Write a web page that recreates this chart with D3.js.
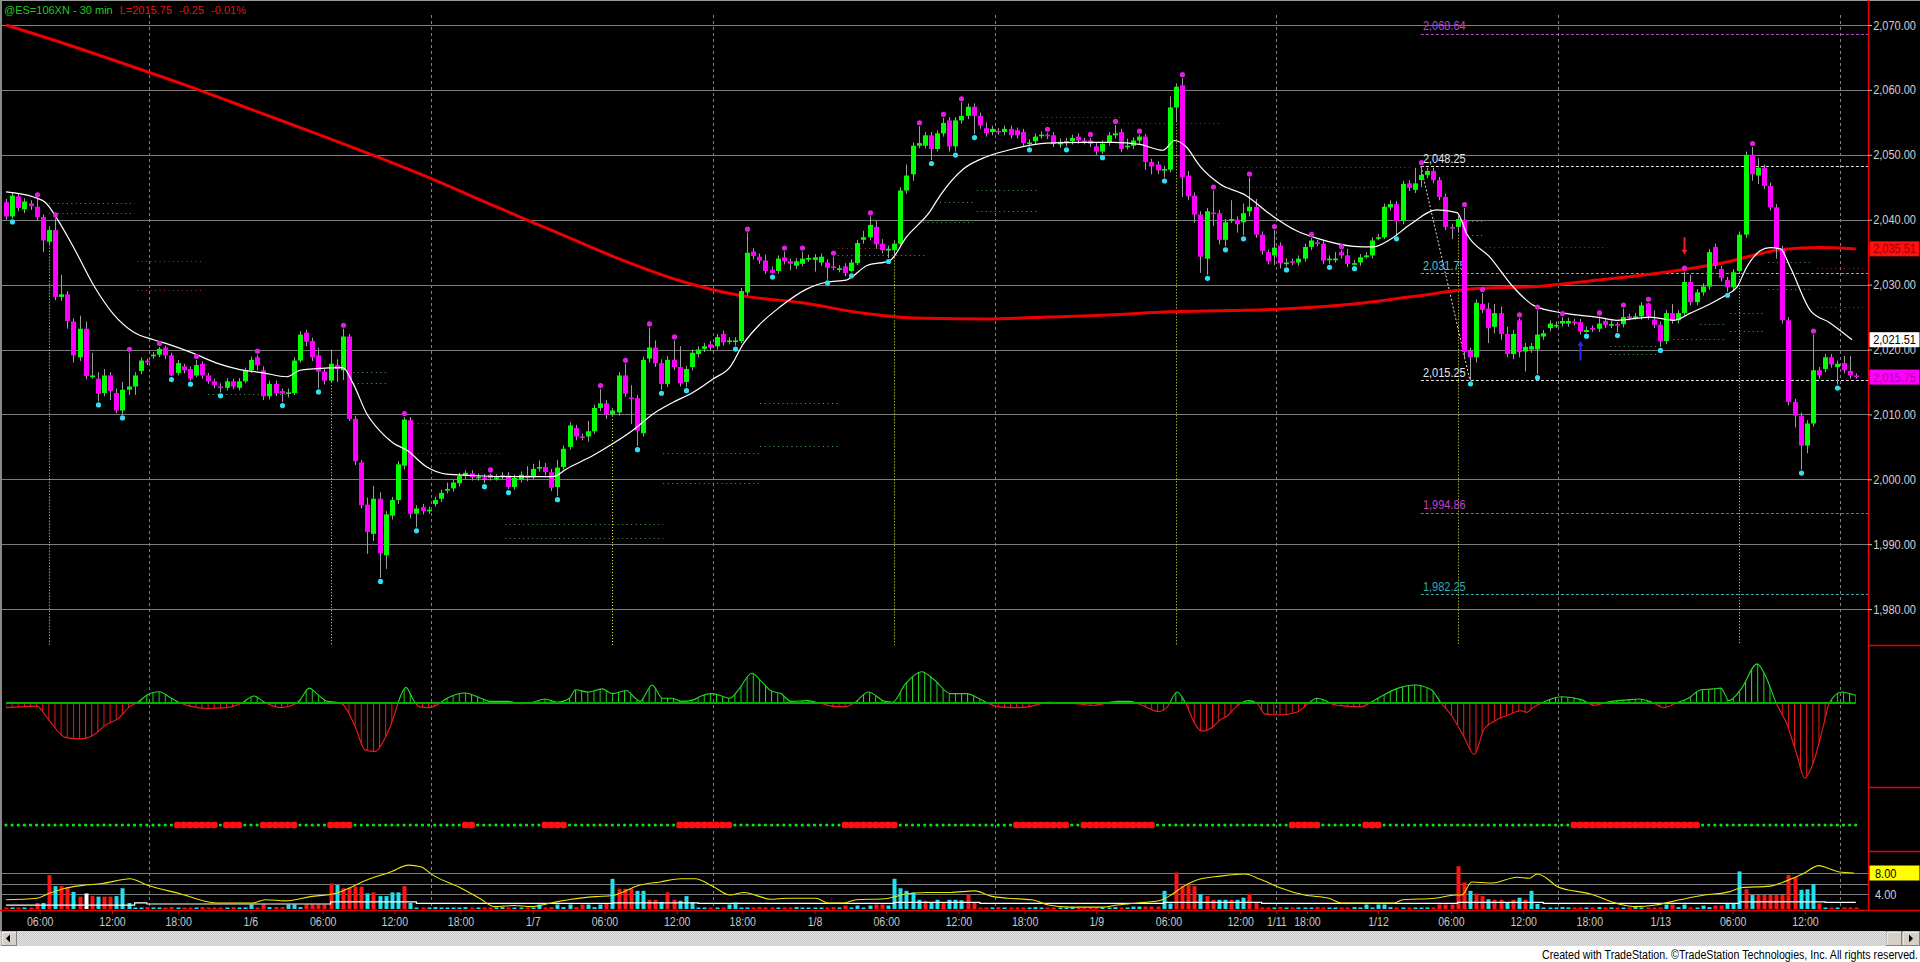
<!DOCTYPE html>
<html><head><meta charset="utf-8">
<title>@ES=106XN - 30 min</title>
<script src="https://d3js.org/d3.v7.min.js"></script>
<style>
  html, body { margin: 0; padding: 0; background: #000; overflow: hidden; }
  svg { display: block; }
  .narrow { font-family: "Liberation Sans", Arial, sans-serif; }
  .title { font-family: "Liberation Sans", Arial, sans-serif; font-size: 11px; }
</style>
</head><body>
<svg id="chart" width="1920" height="962"></svg>
<script>
// ---- 30 min bars, 1/5 03:00 .. 1/13 (bar index 0..302) ----
const opens = [
  2042.7,2040.5,2043.6,2041.6,2042.5,2042.0,2040.4,2036.6,2038.4,2028.1,
  2028.5,2024.3,2018.8,2023.2,2015.9,2015.5,2013.3,2016.0,2013.3,2010.6,
  2013.8,2014.3,2016.7,2018.3,2019.0,2019.2,2020.3,2019.1,2016.4,2017.4,
  2017.0,2016.0,2017.8,2016.0,2015.1,2014.3,2014.1,2015.1,2014.1,2015.1,
  2016.8,2018.8,2016.8,2012.8,2014.7,2013.6,2013.3,2013.3,2018.3,2022.6,
  2021.3,2019.1,2016.6,2015.2,2017.6,2016.8,2022.0,2009.3,2002.6,1996.1,
  1991.6,1997.0,1988.3,1994.4,1996.8,2002.1,2009.1,1994.7,1995.7,1995.2,
  1996.2,1997.0,1998.3,1998.6,1999.4,2000.5,2000.9,2000.3,2000.3,2000.7,
  2000.2,2000.5,2000.6,1998.8,1999.9,2000.6,2000.3,2001.8,2001.9,2001.1,
  1998.8,2001.9,2005.0,2007.9,2006.6,2006.6,2007.4,2011.0,2011.7,2010.0,
  2010.3,2016.0,2012.6,2012.5,2007.1,2018.6,2020.3,2017.9,2014.7,2018.4,
  2017.3,2015.0,2017.3,2019.3,2020.1,2020.8,2020.5,2022.4,2021.3,2021.3,
  2021.3,2028.8,2035.1,2034.3,2033.7,2032.3,2032.1,2034.2,2033.6,2032.9,
  2033.2,2034.0,2033.8,2033.4,2033.4,2032.8,2032.4,2032.8,2032.1,2033.3,
  2036.9,2037.3,2038.9,2036.3,2035.4,2035.3,2036.3,2044.5,2047.0,2051.4,
  2051.4,2053.0,2050.9,2053.3,2055.3,2051.3,2055.3,2056.0,2057.4,2056.0,
  2054.1,2053.5,2053.7,2053.5,2054.0,2053.8,2053.5,2051.8,2052.1,2053.0,
  2053.1,2053.0,2051.6,2052.0,2052.1,2052.8,2052.2,2052.2,2051.3,2050.5,
  2051.9,2053.0,2053.5,2051.3,2051.4,2052.2,2052.8,2048.9,2048.5,2047.7,
  2047.7,2057.3,2060.7,2046.8,2043.7,2040.8,2034.0,2041.1,2041.0,2036.9,
  2040.0,2040.0,2039.6,2041.3,2042.0,2037.7,2035.0,2034.5,2036.0,2033.3,
  2033.6,2033.4,2034.0,2035.8,2036.5,2036.3,2033.9,2033.9,2035.0,2034.5,
  2033.2,2033.4,2034.4,2034.5,2037.2,2037.3,2041.9,2042.4,2039.8,2045.6,
  2044.6,2046.1,2046.9,2047.5,2046.1,2043.5,2038.9,2038.9,2040.0,2019.8,
  2018.8,2027.0,2026.3,2023.5,2025.6,2022.4,2019.3,2024.5,2019.7,2020.0,
  2020.0,2022.0,2023.3,2023.7,2024.0,2024.0,2024.3,2024.2,2022.7,2023.3,
  2023.2,2024.4,2023.8,2023.9,2023.9,2025.1,2025.0,2025.1,2027.1,2024.6,
  2023.8,2021.3,2025.6,2024.5,2025.6,2030.4,2027.3,2028.8,2029.7,2035.8,
  2032.4,2030.7,2029.6,2032.1,2037.7,2050.0,2046.8,2048.0,2045.2,2041.9,
  2035.5,2024.5,2011.9,2009.8,2005.2,2008.6,2016.8,2017.0,2018.8,2017.3,
  2017.9,2016.7,2016.0
];
const highs = [
  2043.2,2044.2,2044.0,2043.3,2043.0,2043.3,2040.8,2039.0,2040.2,2031.5,
  2029.0,2024.8,2025.2,2024.3,2019.5,2016.5,2017.0,2016.5,2014.0,2015.0,
  2019.5,2016.5,2018.8,2018.6,2019.6,2020.4,2020.6,2019.5,2018.4,2017.8,
  2017.4,2018.4,2018.2,2016.4,2015.5,2014.8,2015.6,2015.5,2015.6,2017.2,
  2018.9,2019.2,2017.4,2015.2,2015.2,2014.0,2014.0,2018.8,2022.8,2023.0,
  2021.8,2020.3,2017.0,2020.0,2018.5,2023.2,2022.4,2009.8,2003.0,1997.2,
  1999.0,1998.0,1995.1,1997.3,2002.8,2009.6,2009.6,1996.0,1996.2,1995.8,
  1997.3,1998.4,1999.5,2000.0,2001.0,2001.4,2001.4,2000.9,2000.8,2000.9,
  2000.8,2001.1,2001.1,2000.7,2001.2,2002.0,2002.4,2002.9,2002.5,2001.6,
  2003.0,2005.2,2008.8,2008.4,2007.0,2009.0,2011.5,2013.9,2012.2,2011.0,
  2016.5,2017.8,2014.5,2013.0,2018.9,2023.4,2021.4,2018.5,2019.0,2021.4,
  2020.5,2017.5,2020.0,2020.5,2021.0,2021.3,2022.4,2022.9,2021.9,2021.9,
  2029.5,2038.0,2035.6,2034.8,2034.6,2032.8,2034.5,2035.1,2034.0,2034.1,
  2035.1,2034.6,2034.7,2034.8,2033.9,2034.3,2033.0,2033.3,2033.9,2036.9,
  2038.3,2040.5,2039.8,2037.0,2036.0,2036.8,2045.0,2048.5,2051.9,2054.4,
  2053.5,2053.5,2053.8,2055.7,2055.8,2055.8,2058.1,2057.9,2057.9,2056.5,
  2055.0,2054.5,2054.1,2054.5,2054.5,2054.2,2054.0,2052.4,2053.3,2053.6,
  2053.4,2053.5,2052.5,2052.6,2053.1,2053.3,2052.6,2052.6,2051.8,2052.2,
  2053.5,2054.6,2054.0,2052.5,2052.7,2053.1,2053.2,2049.4,2049.0,2048.3,
  2059.0,2061.0,2061.8,2047.5,2044.2,2041.3,2041.8,2044.5,2041.5,2040.1,
  2043.0,2040.5,2042.5,2046.5,2043.2,2038.2,2035.4,2038.4,2036.5,2034.0,
  2034.0,2034.5,2036.3,2037.2,2036.9,2036.8,2034.5,2035.0,2035.3,2035.5,
  2033.8,2034.7,2035.0,2037.3,2037.8,2042.5,2043.0,2042.9,2046.0,2046.1,
  2048.0,2048.25,2048.0,2048.0,2046.6,2044.0,2039.4,2040.6,2041.8,2020.3,
  2027.7,2028.7,2027.2,2027.0,2026.6,2023.5,2023.0,2024.8,2021.0,2021.0,
  2026.0,2023.0,2024.5,2024.3,2025.0,2024.9,2024.7,2024.7,2023.5,2023.7,
  2025.1,2024.9,2024.4,2024.2,2026.3,2025.5,2025.6,2027.3,2027.2,2026.0,
  2024.3,2026.1,2027.0,2026.1,2032.0,2031.5,2029.3,2030.2,2035.5,2036.3,
  2032.9,2031.2,2032.4,2038.2,2050.5,2051.2,2049.5,2048.5,2045.7,2042.4,
  2036.0,2025.0,2012.4,2010.3,2009.1,2022.3,2017.3,2019.3,2019.3,2018.3,
  2019.0,2019.0,2016.3
];
const lows = [
  2040.0,2040.2,2041.3,2041.0,2041.5,2039.9,2035.0,2036.0,2027.6,2027.5,
  2023.2,2018.0,2018.2,2015.4,2015.5,2012.0,2012.8,2012.2,2010.2,2010.0,
  2013.0,2013.0,2016.2,2017.6,2018.6,2018.8,2018.5,2015.9,2016.0,2016.3,
  2015.2,2015.7,2015.5,2014.7,2014.0,2013.4,2013.7,2013.9,2013.7,2014.8,
  2016.4,2016.8,2012.2,2012.3,2012.8,2011.9,2012.6,2013.0,2018.0,2020.5,
  2018.2,2014.0,2014.6,2014.8,2015.0,2015.3,2009.0,2002.2,1995.5,1988.5,
  1990.5,1984.8,1986.2,1993.8,1996.2,2001.5,1994.0,1992.6,1994.6,1994.7,
  1995.8,1996.5,1997.8,1998.1,1998.9,2000.0,1999.8,1999.8,1999.4,1999.8,
  1999.8,2000.0,1998.5,1998.4,1999.5,1999.7,2000.0,2001.2,2000.6,1998.2,
  1997.4,2001.5,2004.6,2006.0,2006.0,2005.8,2007.0,2010.5,2009.3,2009.6,
  2009.8,2012.7,2008.5,2005.1,2006.6,2018.0,2017.3,2013.8,2014.2,2016.8,
  2014.3,2014.2,2016.8,2018.8,2019.6,2019.8,2020.0,2020.6,2020.8,2020.6,
  2021.0,2028.3,2033.9,2033.2,2031.6,2031.7,2031.7,2033.1,2032.2,2032.4,
  2032.8,2033.5,2032.0,2032.9,2030.8,2032.2,2031.9,2031.3,2031.9,2033.0,
  2036.3,2036.8,2035.5,2034.8,2034.1,2034.5,2036.0,2044.0,2046.0,2051.0,
  2051.0,2049.2,2050.5,2052.8,2050.5,2050.5,2054.8,2055.5,2053.2,2054.0,
  2052.8,2053.0,2053.1,2053.0,2052.5,2052.5,2051.3,2051.3,2051.6,2052.5,
  2052.4,2051.2,2051.1,2051.3,2051.6,2051.7,2051.6,2051.2,2050.0,2050.1,
  2051.4,2052.5,2050.4,2050.8,2050.9,2051.7,2047.7,2047.0,2047.0,2046.5,
  2047.3,2055.0,2043.5,2043.0,2039.5,2031.8,2031.5,2039.0,2036.2,2035.9,
  2039.5,2038.0,2037.6,2040.5,2037.2,2034.6,2033.1,2033.0,2032.5,2032.8,
  2033.0,2032.9,2033.5,2035.3,2035.9,2033.2,2033.2,2033.4,2034.0,2032.7,
  2033.0,2032.9,2034.0,2034.0,2036.8,2037.0,2041.4,2037.6,2039.3,2044.4,
  2044.1,2045.0,2046.4,2045.6,2043.0,2038.4,2037.0,2038.0,2018.5,2015.25,
  2018.0,2025.6,2021.0,2022.5,2021.5,2018.8,2018.5,2018.8,2016.6,2019.5,
  2016.2,2021.5,2022.8,2023.3,2023.5,2023.5,2023.7,2022.3,2022.6,2022.7,
  2022.7,2023.3,2023.3,2022.7,2023.4,2024.5,2024.6,2024.6,2024.6,2023.3,
  2020.4,2020.8,2024.0,2024.0,2025.2,2026.8,2026.8,2028.3,2029.2,2032.4,
  2030.5,2028.9,2029.1,2031.6,2037.2,2046.0,2045.5,2044.7,2041.4,2034.0,
  2024.0,2011.4,2008.0,2001.5,2004.0,2008.1,2015.5,2016.5,2017.2,2014.6,
  2016.3,2015.5,2015.5
];
const closes = [
  2040.5,2043.7,2041.8,2042.8,2042.1,2040.4,2036.8,2038.4,2028.1,2028.5,
  2024.4,2019.1,2023.2,2015.9,2016.0,2013.2,2016.0,2013.6,2010.6,2013.8,
  2014.3,2016.0,2018.3,2018.0,2019.2,2020.1,2019.1,2016.0,2017.9,2016.8,
  2015.5,2017.6,2016.0,2015.1,2014.5,2014.2,2015.1,2014.3,2015.1,2016.8,
  2018.4,2017.6,2012.8,2014.7,2013.3,2013.2,2013.4,2018.3,2022.3,2021.2,
  2018.8,2016.6,2015.2,2017.8,2017.0,2022.0,2009.3,2002.8,1996.0,1991.9,
  1997.0,1988.6,1994.6,1996.8,2002.3,2009.2,1994.7,1995.5,1995.1,1995.3,
  1996.8,1997.9,1998.5,1999.5,2000.5,2001.0,2000.3,2000.4,2000.2,2000.2,
  2000.3,2000.6,1998.8,2000.2,2000.7,2000.2,2001.6,2001.9,2001.1,1998.7,
  2001.8,2004.7,2008.3,2006.6,2006.5,2007.4,2011.0,2011.7,2010.0,2010.6,
  2016.0,2013.2,2012.5,2007.5,2018.4,2020.3,2017.9,2014.7,2018.4,2017.3,
  2014.8,2017.0,2019.5,2020.0,2020.5,2020.3,2021.9,2021.1,2021.4,2021.4,
  2029.0,2034.9,2034.4,2033.7,2032.1,2031.8,2034.0,2033.6,2033.2,2033.6,
  2034.0,2034.1,2034.2,2034.3,2032.6,2032.7,2032.5,2031.8,2033.4,2036.4,
  2037.3,2039.2,2036.2,2035.3,2035.5,2036.3,2044.5,2046.8,2051.4,2051.8,
  2053.0,2050.9,2053.3,2054.9,2051.3,2055.3,2056.0,2057.4,2056.0,2054.5,
  2053.3,2054.0,2053.6,2054.0,2053.0,2053.0,2051.8,2051.9,2052.8,2053.1,
  2053.0,2051.7,2052.0,2052.1,2052.6,2052.2,2052.1,2051.7,2050.5,2051.7,
  2053.0,2053.3,2050.9,2051.4,2052.2,2052.8,2048.9,2048.2,2047.6,2047.8,
  2057.3,2060.5,2046.5,2043.6,2040.8,2034.3,2041.3,2041.0,2036.9,2039.6,
  2040.1,2039.3,2041.0,2042.0,2037.7,2035.2,2033.6,2035.7,2033.3,2033.4,
  2033.5,2034.0,2035.8,2036.8,2036.4,2033.7,2034.0,2034.0,2034.5,2033.2,
  2033.3,2034.2,2034.5,2036.8,2037.3,2042.0,2042.4,2039.8,2045.5,2044.9,
  2045.6,2046.9,2047.5,2046.1,2043.5,2038.9,2038.8,2040.1,2019.6,2018.8,
  2027.2,2026.1,2023.3,2025.6,2022.4,2019.3,2022.4,2019.6,2020.4,2020.5,
  2022.3,2022.5,2024.0,2023.8,2024.4,2024.4,2024.2,2022.8,2023.0,2023.2,
  2024.0,2023.8,2023.9,2023.7,2025.0,2025.0,2025.1,2026.8,2025.1,2023.8,
  2021.3,2025.6,2024.5,2025.6,2030.4,2027.3,2028.8,2029.7,2035.0,2032.9,
  2031.0,2029.6,2031.9,2037.7,2050.0,2047.0,2048.0,2045.2,2041.9,2035.6,
  2024.5,2011.9,2009.8,2005.2,2008.6,2016.8,2016.0,2018.8,2017.7,2017.8,
  2016.8,2016.0,2015.75
];

// swing markers (bar index)
const swingHighBars = [5,8,20,25,31,41,55,65,79,97,101,105,109,121,127,130,135,141,149,153,156,170,177,181,185,
  192,197,203,207,213,218,231,238,241,247,250,254,260,264,268,274,285,295];
const swingLowBars = [1,15,19,27,30,35,45,51,61,67,78,82,90,103,107,111,119,125,134,138,144,151,155,158,167,173,179,
  189,196,199,202,209,216,220,227,239,250,258,263,270,281,293,299];

// moving averages: [bar, price]
const fastMa = [[0,2044.3],[4.5,2043.5],[6.6,2042.5],[8.5,2039.9],[11,2035.8],[14.3,2029.9],[17.5,2025.5],[20.8,2022.7],
  [24.1,2021.5],[26.2,2020.9],[30.6,2019.4],[34.4,2017.9],[38.2,2016.9],[42,2016.4],[45.8,2015.8],[48,2016.8],[50.2,2017],
  [55,2017.2],[56.7,2014.7],[58.9,2010.1],[61,2007.5],[63.2,2005.6],[65.4,2004.5],[68.7,2001.9],[71.9,2000.8],[75.7,2000.6],
  [82.3,2000.4],[89.3,2000.4],[91.5,2001.6],[95.9,2003.7],[99.1,2005.5],[102.4,2007.6],[105.7,2010.1],[109,2011.9],
  [112.2,2013.4],[115.5,2015.5],[118.2,2017.3],[120.4,2020.9],[123.1,2023.9],[126.3,2026.5],[130.7,2029.3],[134,2030.4],
  [137.2,2030.7],[140.5,2032.9],[144.3,2033.7],[147,2037.3],[150.8,2041.2],[152.5,2043.7],[156.3,2047.8],[160.1,2049.7],
  [164.4,2050.9],[169.9,2051.8],[175.3,2051.9],[180.8,2051.9],[185.1,2051.6],[188.9,2050.7],[190.8,2052.2],[192.7,2051.2],
  [194.9,2048.3],[198.2,2045.5],[202.5,2043.7],[206.3,2040.9],[210.7,2038.3],[214.5,2037],[220,2035.9],[223.2,2035.8],
  [225.9,2036.9],[229.3,2039.3],[233.6,2041.5],[236.9,2041.1],[238.5,2037.8],[242.3,2034.2],[246.1,2029.6],[249.4,2026.8],
  [254.3,2025.6],[259.7,2025],[263,2024.5],[268.4,2025],[272.3,2024.5],[275,2025.6],[278.2,2027],[281,2028.5],[282.6,2029.6],
  [284.2,2032.7],[286.4,2035.2],[288,2035.7],[289.7,2035.5],[291.3,2032.7],[294.6,2026],[297.8,2024.1],[301.4,2021.5]];
const slowMa = [[0,2070],[10,2067],[20,2063.8],[30,2060.5],[40,2057],[50,2053.5],[60,2049.9],[70,2046.1],[80,2042],
  [90,2038],[100,2034],[110,2030.6],[120,2028.3],[130,2027.2],[140,2025.6],[150,2024.8],[160,2024.7],[170,2025],
  [180,2025.3],[190,2025.8],[200,2026],[210,2026.3],[220,2027],[230,2028.2],[240,2029.4],[250,2029.7],[260,2030.7],
  [270,2031.8],[280,2033.3],[290,2035.4],[296,2035.7],[302,2035.5]];

// daily dotted levels
const levelStart = [7,7,21.4,21.4,33,56.7,56.7,66.5,66.5,81.5,81.5,107.3,107.3,123.1,123.1,135.8,135.8,149,152.5,
  158.5,158.5,169.2,169.2,198.2,198.2,237.9,237.9,241.5,261.9,261.9,272.2,276.6,281.5,281.5,287.7,287.7,295.7,295.7];
const levelEnd = [21,21,32,32,46,62.4,62.4,81.1,81.1,107.3,107.3,123.1,123.1,135.8,135.8,144.8,150,157.9,157.9,
  168.3,168.3,181.9,198.2,229.2,226,241.1,241.1,261.4,269.5,269.5,281,281,286.9,286.9,295,295,303.8,303.8];
const levelPrice = [2042.5,2041.0,2033.7,2029.1,2013.1,2016.6,2014.8,2008.7,2004.1,1993.1,1991.0,2004.1,1999.4,
  2011.7,2005.2,2035.6,2034.6,2039.7,2042.8,2044.6,2041.3,2055.8,2054.9,2048.1,2045.0,2039.8,2037.7,2035.8,
  2020.5,2019.3,2021.6,2024.0,2025.6,2022.9,2033.5,2029.3,2032.5,2026.6];
const levelKind = "ggrrgggrrggggggrgggggrrrrggrggggggggrr";

// projection levels from the 1/12 swing
const projStartBar = 231;
const projPrices = [2068.64, 2048.25, 2031.75, 2015.25, 1994.86, 1982.25];
const projColors = ["#b848c8", "#e6e6e6", "#48c8d8", "#e6e6e6", "#c040c8", "#3aa8b0"];

// session markers
const sessionOpenBars = [7, 53, 99, 145, 191, 237, 283];
const sessionBreakBars = [23.4, 69.4, 115.4, 161.4, 207.4, 253.4, 299.4];

// oscillator: [bar, value]
const osc = [[0,-0.3],[5,-0.2],[7,-1.1],[9.7,-2.2],[12.3,-2.3],[14.3,-2.05],[16.3,-1.4],[18.3,-1.0],[20.3,-0.2],
  [21.3,0],[23.5,0.6],[25,0.72],[27,0.3],[28.5,0],[30,-0.2],[33,-0.35],[36,-0.3],[38.5,0],[40.5,0.45],[42,0.1],
  [43,-0.1],[45,-0.3],[47,-0.1],[48,0.2],[49.5,0.95],[51,0.5],[52.5,0.1],[54,0.05],[55,-0.1],[57,-1.5],[58.6,-3.0],
  [60.3,-3.1],[62,-2.15],[63.3,-0.9],[64,0],[65.3,1.0],[66.5,0.2],[67.5,-0.25],[69,-0.3],[70.5,-0.1],[72,0.3],
  [75,0.64],[77.5,0.3],[79,0.1],[82,0.1],[84,-0.05],[86,0.05],[88,0.25],[90,0.05],[92,0.3],[93,0.85],[95,0.7],
  [97.3,0.9],[99,0.6],[101.3,0.8],[102.5,0.4],[103.5,0.1],[105.5,1.15],[107.2,0.3],[108.8,0.3],[110.2,0.1],
  [112.2,0.2],[113.5,0.45],[115.2,0.6],[116.8,0.45],[118.2,0.3],[119.5,0.8],[121.8,1.9],[123.5,1.3],[124.8,0.8],
  [126.5,0.6],[128.2,0.1],[130.8,0.15],[132.8,0],[134.8,-0.2],[136.8,-0.25],[138.5,0],[140.8,0.7],[143.5,0.1],
  [144.8,0.05],[146.8,1.2],[149.5,2.0],[151.5,1.5],[154.2,0.6],[156.8,0.6],[158.8,0.3],[160.2,0],[162.2,-0.25],
  [164.8,-0.3],[167.5,-0.2],[170.2,0.05],[173.5,0],[177.5,-0.15],[181.5,0.1],[183.5,0.1],[185.5,-0.15],[188.2,-0.55],
  [189.5,-0.3],[191.2,0.7],[192.5,0.05],[194.2,-1.4],[195.2,-1.8],[196.8,-1.6],[198.2,-1.1],[199.5,-0.8],
  [200.8,-0.25],[202.8,0.15],[204.2,0],[205.5,-0.7],[208,-0.77],[210.7,-0.6],[212.7,0],[214,0.3],[215.7,0.1],
  [216.7,-0.1],[218.7,-0.2],[221.3,-0.25],[222.7,0],[224,0.3],[227.3,0.95],[230,1.15],[232.7,0.85],[234.3,0],
  [236,-0.8],[238,-2.15],[239.7,-3.3],[241.3,-1.7],[243.3,-1.1],[245.3,-0.77],[247.3,-0.5],[248.3,-0.6],
  [249.3,-0.3],[250.7,0],[254,0.4],[257.3,0.2],[259.3,-0.15],[261.3,0.05],[264.7,0.2],[266.7,0.25],[268.7,0.05],
  [270.7,-0.3],[272.7,0],[274.7,0.3],[276.7,0.85],[278.7,0.9],[280,0.95],[281.3,0.15],[283.3,0.9],[285.9,2.5],
  [287.3,1.7],[289,0],[290.7,-1.3],[292.3,-3.2],[293.7,-4.8],[295,-3.9],[296.7,-1.5],[297.7,0],[299.7,0.7],
  [301,0.6],[302,0.5]];

// trend state row: red runs (inclusive bar ranges), green otherwise
const redRunStart = [28,36,42,53,75,88,110,137,165,176,210,222,256];
const redRunEnd   = [34,38,47,56,76,91,118,145,173,187,214,224,276];

// volume panel
const volume = [
  1.3,1.3,1.3,1.3,1.3, 2.3,2.3,
  7.6,5.5,5.5,5.3,4.4,3.5,4.1,3.6,3.5,3.5,3.5,3.6,5.1,2.3,
  1.3,1.3,1.5,1.3,1.3,1.3,1.5,1.3,1.3,1.3,1.3,1.5,1.3,1.3,1.3,1.3,1.5,1.3,1.3,
  2.0,1.3,2.0,1.5,1.5,1.5,2.0,2.0,1.5,2.0,2.0,2.0,2.0,
  6.0,5.7,5.1,5.2,5.4,5.4,4.1,4.3,3.6,3.6,4.3,4.3,5.5,2.3,
  1.3,1.3,1.3,1.5,1.3,1.3,1.3,1.3,1.5,1.3,1.3,1.3,1.3,1.3,1.5,1.3,1.3,1.3,1.3,1.3,
  2.0,1.3,1.5,2.0,1.5,2.0,1.5,2.0,2.0,1.5,2.0,2.3,
  6.9,5.0,5.0,5.0,4.6,4.6,2.9,2.9,2.5,4.3,2.9,2.7,3.6,2.4,
  1.3,1.3,1.3,1.3,1.3,2.0,2.4,
  1.3,1.3,1.3,1.5,1.3,1.3,1.3,1.3,1.3,1.5,1.3,1.3,1.3,1.3,1.3,1.5,1.3,
  1.8,1.3,1.8,1.3,1.8,2.0,2.0,1.8,
  6.9,5.1,4.6,4.3,2.9,2.7,2.4,2.9,2.4,2.9,2.9,2.8,3.9,2.4,
  1.3,1.3,1.3,1.5,1.3,1.3,1.3,1.3,1.3,1.5,1.3,1.3,1.3,1.3,1.3,1.5,1.3,1.3,1.3,1.3,1.3,1.3,1.5,1.3,1.3,
  1.6,1.6,1.6,1.6,1.6,
  4.6,2.2,8.1,5.5,5.8,5.5,4.0,3.6,2.9,2.9,2.9,2.9,2.9,3.3,4.0,2.4,
  1.3,1.3,1.3,1.5,1.3,1.3,1.3,1.3,1.3,1.5,1.3,1.3,1.3,1.3,1.3,1.5,1.3,
  2.0,1.3,2.0,2.0,1.5,
  1.3,1.3,1.3,1.3,1.3,1.3,1.3,
  2.0,2.0,2.0,
  9.3,6.2,4.6,4.1,3.6,3.0,2.9,2.9,2.3,2.9,3.3,2.9,4.6,2.1,
  1.3,1.3,1.3,1.5,1.3,1.3,1.3,1.3,1.3,1.5,1.3,1.3,1.3,1.3,1.3,1.5,1.3,1.3,1.3,1.3,
  2.0,2.0,1.5,2.0, 1.3,1.3, 1.8,1.5,1.8,1.8,
  2.3,2.3,8.3,4.9,3.8,3.8,3.8,3.8,3.8,3.8,7.6,7.2,4.8,4.9,5.9,2.2,
  1.3,1.3,1.3,1.3,1.3,1.3
];
// r = red, c = cyan, w = white, . = follows the price bar
const volumeColorCodes = "....." + "rc" + "rcrrcrwrcrrccc" + ".".repeat(32) + "rcrrrrcrccccrc" + ".".repeat(32) +
  "crrrccrrcrrccc" + ".".repeat(32) + "cccccrccrcccrr" + ".".repeat(30) + "ccrrrrcrrccrccrr" + ".".repeat(32) +
  "rrcrrcrrcrcrcc" + ".".repeat(30) + "cccrcrrrrrrrcccr" + ".".repeat(6);
const volumeAvg = [[0,2.9],[5,3.2],[7,4.1],[9.7,5.1],[12.3,5.6],[15.7,6.0],[20.3,6.9],[23,5.7],[28.3,4.1],[34.3,2.3],
  [40.3,2.3],[42.3,2.9],[45.7,2.7],[49.7,3.5],[53.7,4.1],[59,6.7],[63,8.3],[65.7,9.5],[67.7,9.2],[69.7,7.6],
  [74.3,5.1],[77.3,3.2],[79.7,1.6],[83,1.8],[85.7,1.6],[89,2.3],[92.3,3.0],[96.3,3.5],[99,3.7],[103.5,5.7],
  [106.8,6.3],[110.2,6.9],[112.5,6.9],[115.5,5.4],[118.2,3.8],[120.5,4.3],[122.8,3.6],[124.8,3.0],[127.5,3.2],
  [132.2,3.2],[134.2,2.3],[136.8,2.3],[138.8,2.9],[143.5,3.1],[145.2,3.5],[146.8,4.0],[150.2,4.3],[154.2,4.3],
  [158.2,4.6],[160.8,3.6],[163.5,3.2],[167.5,2.9],[170.2,1.9],[173.5,1.5],[178.8,1.5],[181.5,1.9],[184.8,2.3],
  [188.2,2.7],[190.2,3.8],[192.2,5.4],[194.8,6.8],[198.2,7.4],[202.2,7.8],[204.8,6.8],[208,5.2],[212,3.8],
  [216,3.2],[218,2.3],[226.7,2.3],[228,2.9],[233.3,3.2],[236.7,3.8],[237.7,3.8],[239.3,6.3],[242.7,6.1],
  [246.7,7.2],[248.7,7.0],[250,7.8],[251.3,7.2],[253.3,5.4],[258.7,4.0],[263.3,2.1],[266,1.6],[269.3,1.9],
  [273.3,2.9],[277.3,3.8],[281.3,4.4],[283.3,5.2],[288,5.5],[290.7,6.5],[293.3,7.8],[296,9.4],[297.7,8.8],
  [299.3,8.2],[301.7,8.0]];
const volumeBase = [[0,1.9],[21,2.3],[23,2.1],[53,2.5],[67,2.2],[99,2.3],[113,2.2],[145,2.4],[159,2.2],[189,2.4],
  [205,2.2],[237,2.4],[251,2.2],[283,2.5],[297,2.4],[302,2.4]];

// axes
const priceTicks = [1980, 1990, 2000, 2010, 2020, 2030, 2040, 2050, 2060, 2070];
const volumeGrid = [4, 6, 8];
const timeTickBars = [5.5,17.3,28.1,39.9,51.7,63.4,74.2,86,97.7,109.5,120.2,132,143.7,155.5,166.3,178,189.8,201.5,
  207.4,212.4,224,235.9,247.7,258.5,270.1,281.9,293.7];
const timeTickLabels = ["06:00","12:00","18:00","1/6","06:00","12:00","18:00","1/7","06:00","12:00","18:00","1/8",
  "06:00","12:00","18:00","1/9","06:00","12:00","1/11","18:00","1/12","06:00","12:00","18:00","1/13","06:00","12:00"];

// ---------------------------------------------------------------
const W = 1920, H = 962, axisX = 1868, labelRight = 1916, nBars = closes.length;
const svg = d3.select("#chart");
const defs = svg.append("defs");

const x = d3.scaleLinear().domain([0, nBars - 1]).range([6, 1855.75]);
const y = d3.scaleLinear().domain([1980, 2070]).range([609.1, 25]);
const yOsc = d3.scaleLinear().domain([-5, 3]).range([781.1, 656.1]);
const yVol = d3.scaleLinear().domain([0, 8]).range([915, 873]);
const step = x(1) - x(0);
const px = v => Math.round(v) + 0.5;

// squeeze text horizontally (the platform uses a condensed face)
function condense(sel, f) {
  sel.each(function () {
    const w = this.getComputedTextLength();
    d3.select(this).attr("textLength", w * f).attr("lengthAdjust", "spacingAndGlyphs");
  });
}

svg.append("rect").attr("width", W).attr("height", H).attr("fill", "#000");

// clips
defs.append("clipPath").attr("id", "clipPrice")
  .append("rect").attr("x", 2).attr("y", 3).attr("width", axisX - 2).attr("height", 642);
defs.append("clipPath").attr("id", "clipAbove")
  .append("rect").attr("x", 0).attr("y", 640).attr("width", axisX).attr("height", yOsc(0) - 640);
defs.append("clipPath").attr("id", "clipBelow")
  .append("rect").attr("x", 0).attr("y", yOsc(0)).attr("width", axisX).attr("height", 90);

// frame
svg.append("line").attr("x1", 0).attr("x2", W).attr("y1", 0.5).attr("y2", 0.5).attr("stroke", "#9a9a9a");
svg.append("line").attr("x1", 1).attr("x2", 1).attr("y1", 0).attr("y2", 931).attr("stroke", "#8a8a8a").attr("stroke-width", 2);

// horizontal price grid
svg.append("g").selectAll("line").data(priceTicks).join("line")
  .attr("x1", 2).attr("x2", axisX).attr("y1", d => px(y(d))).attr("y2", d => px(y(d)))
  .attr("stroke", "#7c7c7c").attr("stroke-width", 1);

// volume grid
svg.append("g").selectAll("line").data(volumeGrid).join("line")
  .attr("x1", 2).attr("x2", axisX).attr("y1", d => px(yVol(d))).attr("y2", d => px(yVol(d)))
  .attr("stroke", "#7c7c7c").attr("stroke-width", 1);

// session break lines (all panes)
svg.append("g").selectAll("line").data(sessionBreakBars).join("line")
  .attr("x1", d => px(x(d))).attr("x2", d => px(x(d))).attr("y1", 15).attr("y2", 909)
  .attr("stroke", "#808080").attr("stroke-dasharray", "3,3");

const gPrice = svg.append("g").attr("clip-path", "url(#clipPrice)");

// daily dotted levels
gPrice.append("g").selectAll("line").data(levelPrice).join("line")
  .attr("x1", (d, k) => x(levelStart[k])).attr("x2", (d, k) => Math.min(axisX, x(levelEnd[k])))
  .attr("y1", d => px(y(d))).attr("y2", d => px(y(d)))
  .attr("stroke", (d, k) => levelKind[k] === "g" ? "#4fa84f" : "#a83232")
  .attr("stroke-width", 1).attr("stroke-dasharray", "1,3.5");

// session open markers (yellow dotted)
gPrice.append("g").selectAll("line").data(sessionOpenBars).join("line")
  .attr("x1", d => px(x(d))).attr("x2", d => px(x(d)))
  .attr("y1", d => y(lows[d]) + 2).attr("y2", 645)
  .attr("stroke", "#f0f040").attr("stroke-width", 1).attr("stroke-dasharray", "1,2");

// projection levels
const gProj = gPrice.append("g");
gProj.selectAll("line").data(projPrices).join("line")
  .attr("x1", x(projStartBar)).attr("x2", axisX)
  .attr("y1", d => px(y(d))).attr("y2", d => px(y(d)))
  .attr("stroke", (d, k) => projColors[k]).attr("stroke-dasharray", "3,2");
gProj.selectAll("text").data(projPrices).join("text")
  .attr("class", "narrow").attr("font-size", 12.5)
  .attr("x", x(projStartBar) + 2).attr("y", d => y(d) - 3.5)
  .attr("fill", (d, k) => projColors[k])
  .text(d => d3.format(",.2f")(d))
  .call(condense, 0.88);
// swing connector
gProj.append("line")
  .attr("x1", x(231)).attr("y1", y(highs[231])).attr("x2", x(239)).attr("y2", y(lows[239]))
  .attr("stroke", "#dddddd").attr("stroke-dasharray", "2,2");

// slow MA (red)
gPrice.append("path").datum(slowMa)
  .attr("d", d3.line().x(d => x(d[0])).y(d => y(d[1])).curve(d3.curveMonotoneX))
  .attr("fill", "none").attr("stroke", "#ee0000").attr("stroke-width", 3);

// candles
const bars = d3.range(nBars).map(i => ({ i, o: opens[i], h: highs[i], l: lows[i], c: closes[i] }));
gPrice.append("g").selectAll("line").data(bars).join("line")
  .attr("x1", d => px(x(d.i))).attr("x2", d => px(x(d.i)))
  .attr("y1", d => y(d.h)).attr("y2", d => y(d.l))
  .attr("stroke", "#9c9c9c").attr("stroke-width", 1);
gPrice.append("g").selectAll("rect").data(bars).join("rect")
  .attr("x", d => px(x(d.i)) - 2.5).attr("width", 5)
  .attr("y", d => y(Math.max(d.o, d.c)))
  .attr("height", d => Math.max(1.6, Math.abs(y(d.o) - y(d.c))))
  .attr("fill", d => d.c >= d.o ? "#00ff00" : "#ff00ff");

// fast MA (white)
gPrice.append("path").datum(fastMa)
  .attr("d", d3.line().x(d => x(d[0])).y(d => y(d[1])).curve(d3.curveMonotoneX))
  .attr("fill", "none").attr("stroke", "#ffffff").attr("stroke-width", 1.2);

// swing dots
gPrice.append("g").selectAll("circle").data(swingHighBars).join("circle")
  .attr("cx", d => px(x(d))).attr("cy", d => y(highs[d]) - 3.5).attr("r", 2.6).attr("fill", "#e020e0");
gPrice.append("g").selectAll("circle").data(swingLowBars).join("circle")
  .attr("cx", d => px(x(d))).attr("cy", d => y(lows[d]) + 3.5).attr("r", 2.6).attr("fill", "#30e0f0");

// arrows
function arrow(bar, pFrom, pTo, color) {
  const xa = px(x(bar)), y1 = y(pFrom), y2 = y(pTo), dir = y2 > y1 ? 1 : -1;
  gPrice.append("line").attr("x1", xa).attr("x2", xa).attr("y1", y1).attr("y2", y2 - dir * 4)
    .attr("stroke", color).attr("stroke-width", 2);
  gPrice.append("path")
    .attr("d", `M${xa - 3},${y2 - dir * 5}L${xa + 3},${y2 - dir * 5}L${xa},${y2}Z`).attr("fill", color);
}
arrow(274, 2037.3, 2034.6, "#ff1a1a");
arrow(257, 2018.3, 2021.3, "#2a2aff");

// ---- oscillator pane ----
function hatch(id, color) {
  const p = defs.append("pattern").attr("id", id).attr("patternUnits", "userSpaceOnUse")
    .attr("x", x(0) - 0.5).attr("y", 0).attr("width", step).attr("height", H);
  p.append("rect").attr("x", 0).attr("y", 0).attr("width", 1).attr("height", H).attr("fill", color);
}
hatch("hatchG", "#22dd22");
hatch("hatchR", "#ee1c1c");
const oscArea = d3.area().x(d => x(d[0])).y0(yOsc(0)).y1(d => yOsc(d[1])).curve(d3.curveMonotoneX);
const oscLine = d3.line().x(d => x(d[0])).y(d => yOsc(d[1])).curve(d3.curveMonotoneX);
const gOsc = svg.append("g");
gOsc.append("path").datum(osc).attr("d", oscArea).attr("fill", "url(#hatchG)").attr("clip-path", "url(#clipAbove)");
gOsc.append("path").datum(osc).attr("d", oscArea).attr("fill", "url(#hatchR)").attr("clip-path", "url(#clipBelow)");
gOsc.append("path").datum(osc).attr("d", oscLine).attr("fill", "none").attr("stroke", "#22dd22")
  .attr("stroke-width", 1.1).attr("clip-path", "url(#clipAbove)");
gOsc.append("path").datum(osc).attr("d", oscLine).attr("fill", "none").attr("stroke", "#ee1c1c")
  .attr("stroke-width", 1.1).attr("clip-path", "url(#clipBelow)");
gOsc.append("line").attr("x1", x(0)).attr("x2", x(nBars - 1)).attr("y1", yOsc(0)).attr("y2", yOsc(0))
  .attr("stroke", "#00b400").attr("stroke-width", 2);

// ---- state row ----
const isRed = i => redRunStart.some((s, k) => i >= s && i <= redRunEnd[k]);
const rowY = 825;
const gRow = svg.append("g");
gRow.selectAll("circle").data(bars.filter(d => !isRed(d.i))).join("circle")
  .attr("cx", d => x(d.i)).attr("cy", rowY).attr("r", 1.6).attr("fill", "#00ee00");
gRow.selectAll("rect").data(bars.filter(d => isRed(d.i))).join("rect")
  .attr("x", d => x(d.i) - step / 2 - 0.3).attr("y", rowY - 3.2).attr("width", step + 0.6).attr("height", 6.4)
  .attr("rx", 2).attr("fill", "#ff1010");

// ---- volume pane ----
const volColor = i => {
  const code = volumeColorCodes[i];
  if (code === "r") return "#ff1414";
  if (code === "c") return "#22e0ee";
  if (code === "w") return "#ffffff";
  return closes[i] >= opens[i] ? "#22e0ee" : "#ff1414";
};
svg.append("g").selectAll("rect").data(volume).join("rect")
  .attr("x", (d, i) => px(x(i)) - 2).attr("width", 4)
  .attr("y", d => Math.min(yVol(d), 907.5))
  .attr("height", d => Math.max(1.5, 909 - yVol(d)))
  .attr("fill", (d, i) => volColor(i));
svg.append("path").datum(volumeBase)
  .attr("d", d3.line().x(d => x(d[0])).y(d => yVol(d[1])).curve(d3.curveStepAfter))
  .attr("fill", "none").attr("stroke", "#ffffff").attr("stroke-width", 1.2);
svg.append("path").datum(volumeAvg)
  .attr("d", d3.line().x(d => x(d[0])).y(d => yVol(d[1])).curve(d3.curveMonotoneX))
  .attr("fill", "none").attr("stroke", "#e8e800").attr("stroke-width", 1.1);

// ---- time axis ----
const gTime = svg.append("g").attr("transform", "translate(0,910)")
  .call(d3.axisBottom(x).tickValues(timeTickBars).tickFormat((d, i) => timeTickLabels[i]).tickSize(4).tickPadding(3));
gTime.select(".domain").remove();
gTime.selectAll(".tick line").attr("stroke", "#ee0000");
gTime.selectAll(".tick text").attr("class", "narrow").attr("font-size", 12).attr("fill", "#c8c8c8")
  .call(condense, 0.88);
svg.append("line").attr("x1", 0).attr("x2", W).attr("y1", 910.5).attr("y2", 910.5)
  .attr("stroke", "#ee0000").attr("stroke-width", 1.4);

// ---- right price axis ----
svg.append("line").attr("x1", axisX + 0.5).attr("x2", axisX + 0.5).attr("y1", 0).attr("y2", 911)
  .attr("stroke", "#ee0000").attr("stroke-width", 1.4);
[645, 787, 851].forEach(v => svg.append("line").attr("x1", axisX).attr("x2", W).attr("y1", v + 0.5).attr("y2", v + 0.5)
  .attr("stroke", "#ee0000").attr("stroke-width", 1.4));
const gAxis = svg.append("g").attr("transform", `translate(${axisX},0)`)
  .call(d3.axisRight(y).tickValues(priceTicks).tickFormat(d3.format(",.2f")).tickSize(4).tickPadding(3));
gAxis.select(".domain").remove();
gAxis.attr("text-anchor", "end");
gAxis.selectAll(".tick line").attr("stroke", "#c8c8c8");
gAxis.selectAll(".tick text").attr("class", "narrow").attr("font-size", 12.5).attr("fill", "#d0d0d0")
  .attr("x", labelRight - axisX).call(condense, 0.88);

const fmt = d3.format(",.2f");
function marker(yv, bg, fg, label) {
  svg.append("rect").attr("x", axisX + 1.5).attr("y", yv - 7.5).attr("width", W - axisX - 2).attr("height", 15).attr("fill", bg);
  svg.append("text").attr("class", "narrow").attr("font-size", 12.5).attr("text-anchor", "end")
    .attr("x", labelRight).attr("y", yv + 4.6).attr("fill", fg).text(label).call(condense, 0.88);
}
marker(y(2035.51), "#ff1010", "#9a0000", fmt(2035.51));
marker(y(2021.51), "#ffffff", "#000000", fmt(2021.51));
marker(y(closes[nBars - 1]), "#ff00ff", "#9a109a", fmt(closes[nBars - 1]));
svg.append("rect").attr("x", axisX + 1.5).attr("y", yVol(8) - 7.5).attr("width", W - axisX - 2).attr("height", 15)
  .attr("fill", "#ffff00");
svg.append("text").attr("class", "narrow").attr("font-size", 12.5).attr("x", axisX + 7).attr("y", yVol(8) + 4.6)
  .attr("fill", "#000").text("8.00").call(condense, 0.88);
svg.append("text").attr("class", "narrow").attr("font-size", 12.5).attr("x", axisX + 7).attr("y", yVol(4) + 4.6)
  .attr("fill", "#d0d0d0").text("4.00").call(condense, 0.88);

// ---- title ----
const title = svg.append("text").attr("class", "title").attr("x", 4).attr("y", 14);
title.append("tspan").attr("fill", "#22c822").text("@ES=106XN - 30 min");
title.append("tspan").attr("dx", 7).attr("fill", "#e81010").text("L=2015.75");
title.append("tspan").attr("dx", 7).attr("fill", "#e81010").text("-0.25");
title.append("tspan").attr("dx", 7).attr("fill", "#e81010").text("-0.01%");

// ---- scrollbar + footer ----
const dither = defs.append("pattern").attr("id", "dither").attr("patternUnits", "userSpaceOnUse")
  .attr("width", 2).attr("height", 2);
dither.append("rect").attr("width", 2).attr("height", 2).attr("fill", "#e6e6e6");
dither.append("rect").attr("width", 1).attr("height", 1).attr("fill", "#c4c4c4");
dither.append("rect").attr("x", 1).attr("y", 1).attr("width", 1).attr("height", 1).attr("fill", "#c4c4c4");
svg.append("rect").attr("x", 0).attr("y", 931).attr("width", W).attr("height", 15).attr("fill", "url(#dither)");
function button(bx, w, tri) {
  svg.append("rect").attr("x", bx + 0.5).attr("y", 931.5).attr("width", w - 1).attr("height", 14)
    .attr("fill", "#d4d0c8").attr("stroke", "#808080");
  svg.append("path").attr("d", `M${bx + 1},${945}V${932}H${bx + w - 1}`).attr("fill", "none").attr("stroke", "#ffffff");
  if (tri) svg.append("path").attr("d", tri).attr("fill", "#000");
}
button(1, 16, "M6,938.5L10,934.5V942.5Z");
button(1886, 16, null);
button(1902, 18, "M1913,938.5L1909,934.5V942.5Z");
svg.append("rect").attr("x", 0).attr("y", 946).attr("width", W).attr("height", 16).attr("fill", "#ffffff");
svg.append("text").attr("class", "narrow").attr("font-size", 12).attr("text-anchor", "end")
  .attr("x", 1918).attr("y", 959).attr("fill", "#000")
  .attr("textLength", 376).attr("lengthAdjust", "spacingAndGlyphs")
  .text("Created with TradeStation. \u00A9TradeStation Technologies, Inc. All rights reserved.");
</script>
</body></html>
